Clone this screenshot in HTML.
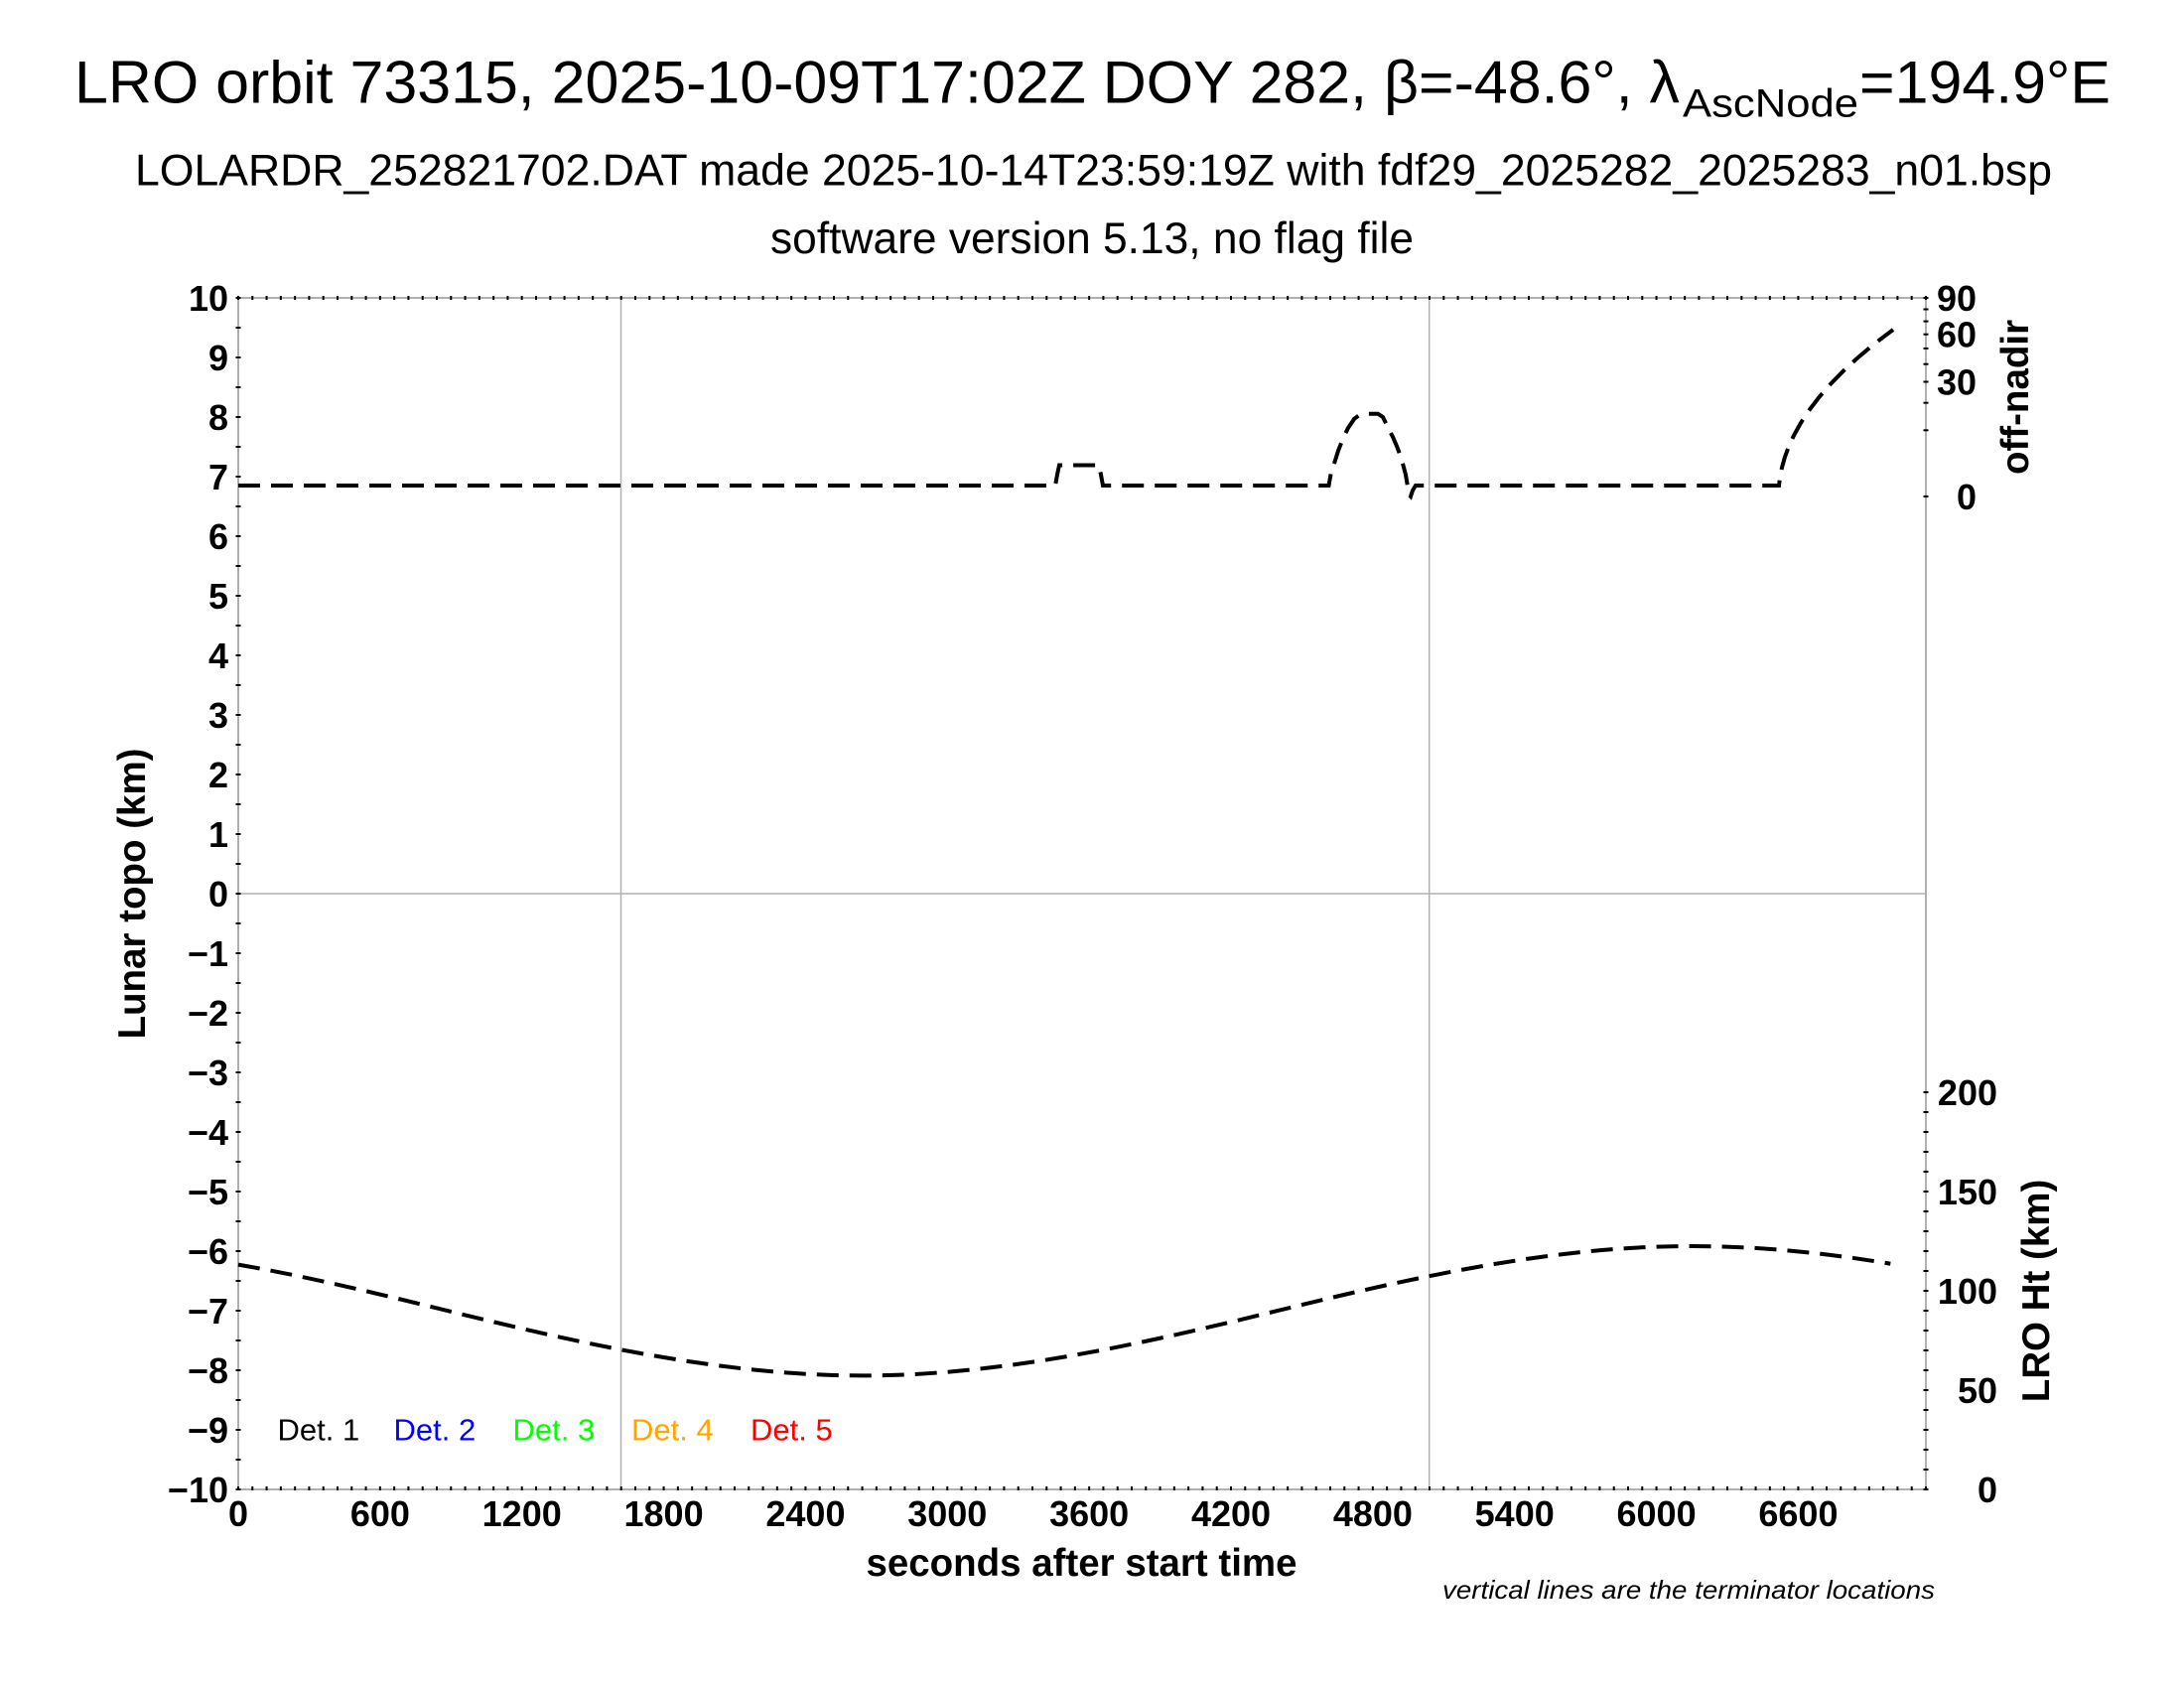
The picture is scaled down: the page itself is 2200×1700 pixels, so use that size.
<!DOCTYPE html>
<html>
<head>
<meta charset="utf-8">
<style>
html,body{margin:0;padding:0;background:#fff;overflow:hidden;}
svg{display:block;}
</style>
</head>
<body>
<svg width="2200" height="1700" viewBox="0 0 2200 1700" xmlns="http://www.w3.org/2000/svg" font-family="'Liberation Sans', Arial, Helvetica, sans-serif">
<rect x="0" y="0" width="2200" height="1700" fill="#ffffff"/>

<!-- Titles -->
<text x="75" y="103.3" font-size="60" textLength="1617" lengthAdjust="spacingAndGlyphs">LRO orbit 73315, 2025-10-09T17:02Z DOY 282, β=-48.6°, λ</text>
<text x="1695" y="117.3" font-size="40" textLength="177" lengthAdjust="spacingAndGlyphs">AscNode</text>
<text x="1873" y="103.3" font-size="60" textLength="253" lengthAdjust="spacingAndGlyphs">=194.9°E</text>
<text x="136" y="186.7" font-size="44.5" textLength="1931" lengthAdjust="spacingAndGlyphs">LOLARDR_252821702.DAT made 2025-10-14T23:59:19Z with fdf29_2025282_2025283_n01.bsp</text>
<text x="776" y="255" font-size="44.5" textLength="648" lengthAdjust="spacingAndGlyphs">software version 5.13, no flag file</text>

<!-- Grid lines -->
<g stroke="#b0b0b0" stroke-width="1.5" fill="none">
<line x1="625.5" y1="300" x2="625.5" y2="1500"/>
<line x1="1439.7" y1="300" x2="1439.7" y2="1500"/>
<line x1="240" y1="900" x2="1940" y2="900"/>
</g>
<!-- Axes box -->
<rect x="240" y="300" width="1700" height="1200" fill="none" stroke="#b0b0b0" stroke-width="2"/>

<!-- Ticks -->
<g stroke="#000" fill="none">
<line x1="239" y1="300" x2="1941" y2="300" stroke-width="4" stroke-dasharray="2 12.2857"/>
<line x1="239" y1="1499" x2="1941" y2="1499" stroke-width="4" stroke-dasharray="2 12.2857"/>
<line x1="240" y1="299" x2="240" y2="1501" stroke-width="5" stroke-dasharray="2 28"/>
<line x1="1940" y1="1099" x2="1940" y2="1501" stroke-width="5" stroke-dasharray="2 18"/>
<g stroke-width="2">
<line x1="1937.5" y1="500" x2="1942.5" y2="500"/>
<line x1="1937.5" y1="433.3" x2="1942.5" y2="433.3"/>
<line x1="1937.5" y1="405.7" x2="1942.5" y2="405.7"/>
<line x1="1937.5" y1="384.5" x2="1942.5" y2="384.5"/>
<line x1="1937.5" y1="366.7" x2="1942.5" y2="366.7"/>
<line x1="1937.5" y1="350.9" x2="1942.5" y2="350.9"/>
<line x1="1937.5" y1="336.7" x2="1942.5" y2="336.7"/>
<line x1="1937.5" y1="323.6" x2="1942.5" y2="323.6"/>
<line x1="1937.5" y1="311.5" x2="1942.5" y2="311.5"/>
<line x1="1937.5" y1="300" x2="1942.5" y2="300"/>
</g>
</g>

<!-- Series -->
<g fill="none" stroke="#000" stroke-width="4" stroke-dasharray="22 11">
<path d="M240,489 L1063,489 L1065,478 L1067,468.5 L1107,468.5 L1109,478 L1111,489 L1338.5,489 L1341,475 L1344,466.7 L1348,454 L1352.8,441.7 L1358,431 L1364.3,421.7 L1370,417.5 L1376,416.7 L1388,416.7 L1393,420 L1398.7,431.7 L1403,440 L1407.3,450 L1411,460 L1413,466.7 L1416,478 L1418,490 L1419.5,498.5 L1421,500 L1423,494 L1426,489 L1792,489 L1793,480.9 L1795,470.8 L1798,460.2 L1802,449.4 L1807,438.5 L1814,425.9 L1822,413.7 L1832,400.5 L1844,386.7 L1858,372.5 L1872,359.7 L1888,346.4 L1907,332"/>
<path d="M240,1273.62 C310.47,1285.72 380.93,1302.91 451.4,1320.2 C590.53,1354.34 729.67,1385.4 868.8,1385.4 C1007.93,1385.4 1147.07,1354.34 1286.2,1320.2 C1425.33,1286.06 1564.47,1255 1703.6,1255 C1770.5,1255 1837.4,1261.48 1904.3,1272.73"/>
</g>

<!-- Left tick labels -->
<g font-size="36" font-weight="bold" text-anchor="end" fill="#000">
<text x="230" y="313">10</text>
<text x="230" y="373">9</text>
<text x="230" y="433">8</text>
<text x="230" y="493">7</text>
<text x="230" y="553">6</text>
<text x="230" y="613">5</text>
<text x="230" y="673">4</text>
<text x="230" y="733">3</text>
<text x="230" y="793">2</text>
<text x="230" y="853">1</text>
<text x="230" y="913">0</text>
<text x="230" y="973">−1</text>
<text x="230" y="1033">−2</text>
<text x="230" y="1093">−3</text>
<text x="230" y="1153">−4</text>
<text x="230" y="1213">−5</text>
<text x="230" y="1273">−6</text>
<text x="230" y="1333">−7</text>
<text x="230" y="1393">−8</text>
<text x="230" y="1453">−9</text>
<text x="230" y="1513">−10</text>
</g>

<!-- Bottom tick labels -->
<g font-size="36" font-weight="bold" text-anchor="middle" fill="#000">
<text x="240" y="1537">0</text>
<text x="382.86" y="1537">600</text>
<text x="525.71" y="1537">1200</text>
<text x="668.57" y="1537">1800</text>
<text x="811.43" y="1537">2400</text>
<text x="954.29" y="1537">3000</text>
<text x="1097.14" y="1537">3600</text>
<text x="1240" y="1537">4200</text>
<text x="1382.86" y="1537">4800</text>
<text x="1525.71" y="1537">5400</text>
<text x="1668.57" y="1537">6000</text>
<text x="1811.43" y="1537">6600</text>
</g>

<!-- Right tick labels -->
<g font-size="36" font-weight="bold" text-anchor="end" fill="#000">
<text x="1991" y="313">90</text>
<text x="1991" y="349.7">60</text>
<text x="1991" y="397.5">30</text>
<text x="1991" y="513">0</text>
<text x="2012" y="1113">200</text>
<text x="2012" y="1213">150</text>
<text x="2012" y="1313">100</text>
<text x="2012" y="1413">50</text>
<text x="2012" y="1513">0</text>
</g>

<!-- Axis titles -->
<g font-size="38.5" font-weight="bold" fill="#000" text-anchor="middle">
<text x="1089.5" y="1587" textLength="434" lengthAdjust="spacingAndGlyphs">seconds after start time</text>
<text transform="translate(146,900) rotate(-90)" x="0" y="0">Lunar topo (km)</text>
<text transform="translate(2043,400) rotate(-90)" x="0" y="0">off-nadir</text>
<text transform="translate(2064,1300) rotate(-90)" x="0" y="0">LRO Ht (km)</text>
</g>

<!-- Legend -->
<g font-size="31">
<text x="279.5" y="1450.7" fill="#000000">Det. 1</text>
<text x="396.5" y="1450.7" fill="#0000ff">Det. 2</text>
<text x="516.5" y="1450.7" fill="#00ff00">Det. 3</text>
<text x="636" y="1450.7" fill="#ffa500">Det. 4</text>
<text x="756" y="1450.7" fill="#ff0000">Det. 5</text>
</g>

<!-- Footnote -->
<text x="1453" y="1610" font-size="26" font-style="italic" fill="#000" textLength="496" lengthAdjust="spacingAndGlyphs">vertical lines are the terminator locations</text>
</svg>
</body>
</html>
